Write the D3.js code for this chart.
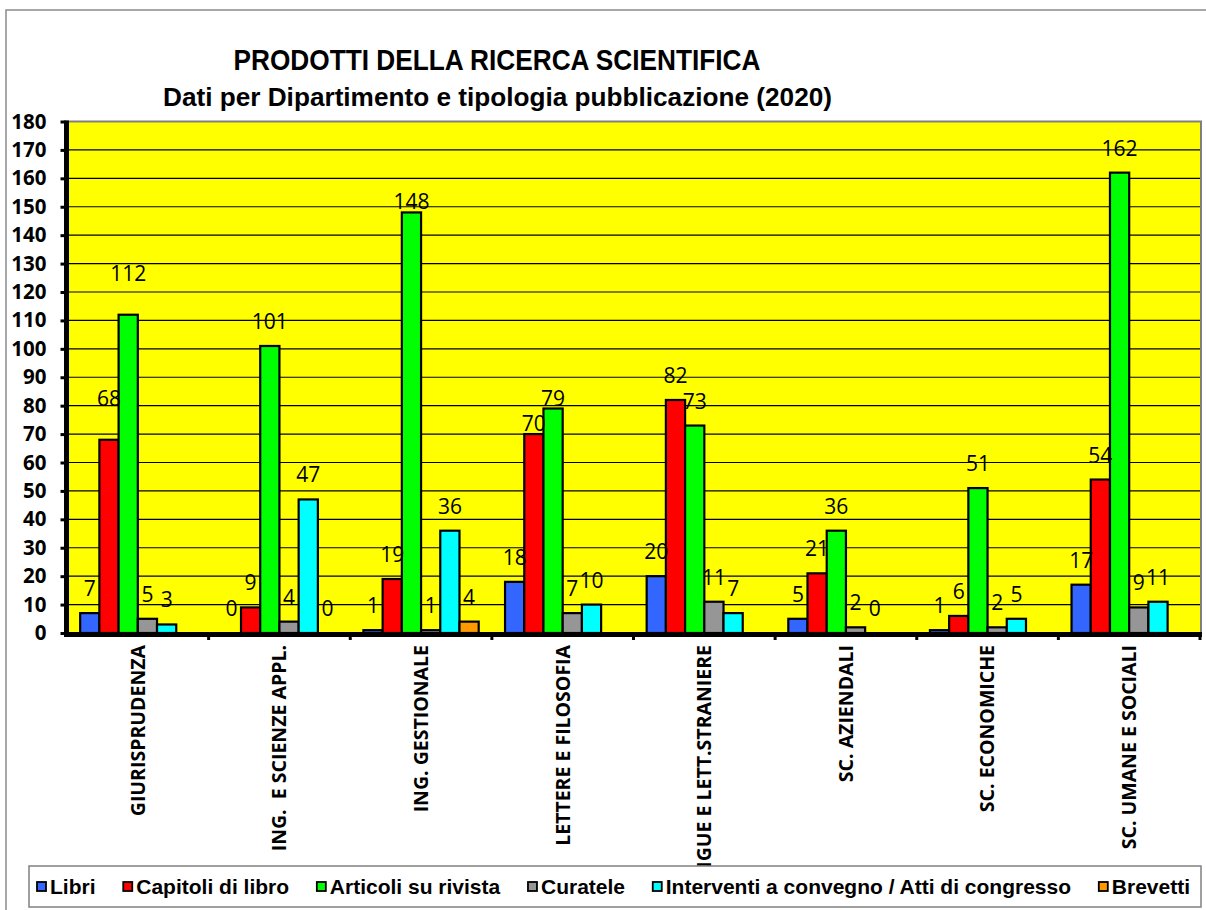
<!DOCTYPE html>
<html>
<head>
<meta charset="utf-8">
<script src="https://cdn.jsdelivr.net/npm/d3@7"></script>
<style>
  body { margin: 0; background: #fff; }
</style>
</head>
<body>
<div id="chart"></div>
<script>
// departments
var categories = ["GIURISPRUDENZA", "ING.  E SCIENZE APPL.", "ING. GESTIONALE", "LETTERE E FILOSOFIA",
                  "LINGUE E LETT.STRANIERE", "SC. AZIENDALI", "SC. ECONOMICHE", "SC. UMANE E SOCIALI"]
var seriesNames = ["Libri", "Capitoli di libro", "Articoli su rivista", "Curatele",
                   "Interventi a convegno / Atti di congresso", "Brevetti"]
var seriesColors = ["#3366ff", "#ff0000", "#00ff00", "#969696", "#00ffff", "#ff9900"]

// values per series (null = not shown)
var libri      = [7, 0, 1, 18, 20, 5, 1, 17]
var capitoli   = [68, 9, 19, 70, 82, 21, 6, 54]
var articoli   = [112, 101, 148, 79, 73, 36, 51, 162]
var curatele   = [5, 4, 1, 7, 11, 2, 2, 9]
var interventi = [3, 47, 36, 10, 7, 0, 5, 11]
var brevetti   = [null, 0, 4, null, null, null, null, null]

var yTicks = [0, 10, 20, 30, 40, 50, 60, 70, 80, 90, 100, 110, 120, 130, 140, 150, 160, 170, 180]

var allSeries = [libri, capitoli, articoli, curatele, interventi, brevetti]

var W = 1206, H = 910
var plot = { left: 67, right: 1200, top: 121.5, bottom: 633 }

// a few labels were dragged by hand in the original
var labelShift = {
  "0|1": -17, "0|2": -17,
  "2|2": 14,
  "3|1": 14, "3|2": 14
}

var svg = d3.select("#chart").append("svg")
    .attr("width", W)
    .attr("height", H)

// outer frame
svg.append("rect")
    .attr("x", 6).attr("y", 10)
    .attr("width", W + 10).attr("height", H + 10)
    .attr("fill", "#fff")
    .attr("stroke", "#8c8c8c")
    .attr("stroke-width", 1.5)

var y = d3.scaleLinear()
    .domain([0, 180])
    .range([plot.bottom, plot.top])

var x0 = d3.scaleBand()
    .domain(categories)
    .range([plot.left, plot.right])
    .padding(0)

var groupPad = x0.bandwidth() * 0.093
var x1 = d3.scaleBand()
    .domain(seriesNames)
    .range([groupPad, x0.bandwidth() - groupPad])
    .padding(0)

// yellow plot area
svg.append("rect")
    .attr("x", plot.left).attr("y", plot.top)
    .attr("width", plot.right - plot.left + 1)
    .attr("height", plot.bottom - plot.top)
    .attr("fill", "#ffff00")

// gridlines
svg.append("g").selectAll("line")
    .data(yTicks.filter(function(d) { return d > 0 && d < 180 }))
    .enter().append("line")
    .attr("x1", plot.left).attr("x2", plot.right + 1)
    .attr("y1", function(d) { return y(d) })
    .attr("y2", function(d) { return y(d) })
    .attr("stroke", "#000")
    .attr("stroke-width", 1.1)

// gray border top / right
svg.append("path")
    .attr("d", "M" + plot.left + "," + y(180) + "H" + (plot.right + 1) + "V" + plot.bottom)
    .attr("fill", "none")
    .attr("stroke", "#808080")
    .attr("stroke-width", 2)

// bars
var groups = svg.append("g").selectAll("g")
    .data(categories)
    .enter().append("g")
    .attr("transform", function(d) { return "translate(" + x0(d) + ",0)" })

groups.each(function(cat, ci) {
  var g = d3.select(this)
  var pts = seriesNames.map(function(s, si) {
    return { series: s, si: si, color: seriesColors[si], value: allSeries[si][ci] }
  }).filter(function(p) { return p.value !== null })

  g.selectAll("rect")
      .data(pts)
      .enter().append("rect")
      .attr("x", function(d) { return x1(d.series) })
      .attr("width", x1.bandwidth())
      .attr("y", function(d) { return y(d.value) })
      .attr("height", function(d) { return y(0) - y(d.value) })
      .attr("fill", function(d) { return d.color })
      .attr("stroke", "#000")
      .attr("stroke-width", 2.2)

  g.selectAll("text")
      .data(pts)
      .enter().append("text")
      .attr("x", function(d) { return x1(d.series) + x1.bandwidth() / 2 })
      .attr("y", function(d) {
        var shift = labelShift[ci + "|" + d.si] || 0
        return y(d.value) - 17 + shift
      })
      .attr("text-anchor", "middle")
      .attr("font-family", "'Open Sans', sans-serif")
      .attr("font-size", "21px")
      .attr("fill", "#000")
      .text(function(d) { return d.value })
})

// y axis
var yAxis = d3.axisLeft(y)
    .tickValues(yTicks)
    .tickSize(6)
    .tickSizeOuter(0)
    .tickPadding(14)

var yG = svg.append("g")
    .attr("transform", "translate(" + (plot.left - 0.5) + ",0)")
    .call(yAxis)

yG.select(".domain")
    .attr("stroke", "#000")
    .attr("stroke-width", 5)
    .attr("d", "M0," + (plot.top - 1) + "V" + (plot.bottom + 4))
yG.selectAll(".tick line")
    .attr("stroke", "#000")
    .attr("stroke-width", 3)
yG.selectAll(".tick text")
    .attr("font-family", "'Open Sans', sans-serif")
    .attr("font-weight", "bold")
    .attr("font-size", "20.5px")
    .attr("fill", "#000")

// x axis line + boundary ticks
svg.append("line")
    .attr("x1", plot.left - 3).attr("x2", plot.right + 2)
    .attr("y1", plot.bottom + 1.5).attr("y2", plot.bottom + 1.5)
    .attr("stroke", "#000")
    .attr("stroke-width", 5)

var bounds = categories.map(function(c) { return x0(c) }).concat([plot.right])
svg.append("g").selectAll("line")
    .data(bounds.slice(1))
    .enter().append("line")
    .attr("x1", function(d) { return d }).attr("x2", function(d) { return d })
    .attr("y1", plot.bottom + 3).attr("y2", plot.bottom + 7)
    .attr("stroke", "#000")
    .attr("stroke-width", 3)

// category labels (rotated)
svg.append("g").selectAll("text")
    .data(categories)
    .enter().append("text")
    .attr("transform", function(d) {
      return "translate(" + (x0(d) + x0.bandwidth() / 2) + "," + (plot.bottom + 12) + ") rotate(-90)"
    })
    .attr("dy", "0.35em")
    .attr("text-anchor", "end")
    .attr("font-family", "'Open Sans', sans-serif")
    .attr("font-weight", "bold")
    .attr("font-size", "19.5px")
    .style("white-space", "pre")
    .attr("fill", "#000")
    .text(function(d) { return d })

// title
svg.append("text")
    .attr("x", 497).attr("y", 70)
    .attr("text-anchor", "middle")
    .attr("font-family", "'Liberation Sans', Arial, sans-serif")
    .attr("font-weight", "bold")
    .attr("font-size", "30px")
    .attr("textLength", 527)
    .attr("lengthAdjust", "spacingAndGlyphs")
    .text("PRODOTTI DELLA RICERCA SCIENTIFICA")

svg.append("text")
    .attr("x", 497.5).attr("y", 106)
    .attr("text-anchor", "middle")
    .attr("font-family", "'Liberation Sans', Arial, sans-serif")
    .attr("font-weight", "bold")
    .attr("font-size", "25.5px")
    .attr("textLength", 669)
    .attr("lengthAdjust", "spacingAndGlyphs")
    .text("Dati per Dipartimento e tipologia pubblicazione (2020)")

// legend
var legend = { x: 29, y: 866, w: 1172, h: 41, start: 37, end: 1190 }
svg.append("rect")
    .attr("x", legend.x).attr("y", legend.y)
    .attr("width", legend.w).attr("height", legend.h)
    .attr("fill", "#fff")
    .attr("stroke", "#808080")
    .attr("stroke-width", 1.5)

var lg = svg.append("g")
var items = lg.selectAll("g")
    .data(seriesNames)
    .enter().append("g")

items.append("rect")
    .attr("width", 9).attr("height", 9)
    .attr("y", legend.y + legend.h / 2 - 4.5)
    .attr("fill", function(d, i) { return seriesColors[i] })
    .attr("stroke", "#000")
    .attr("stroke-width", 1.8)

items.append("text")
    .attr("y", legend.y + legend.h / 2)
    .attr("dy", "0.36em")
    .attr("font-family", "'Liberation Sans', Arial, sans-serif")
    .attr("font-weight", "bold")
    .attr("font-size", "21px")
    .attr("fill", "#000")
    .text(function(d) { return d })

var widths = []
items.selectAll("text").each(function() { widths.push(this.getComputedTextLength()) })
var sq = 13
var total = d3.sum(widths) + sq * widths.length
var gap = (legend.end - legend.start - total) / (widths.length - 1)
var cursor = legend.start
items.each(function(d, i) {
  var it = d3.select(this)
  it.select("rect").attr("x", cursor)
  it.select("text").attr("x", cursor + sq)
  cursor += sq + widths[i] + gap
})
</script>
</body>
</html>
